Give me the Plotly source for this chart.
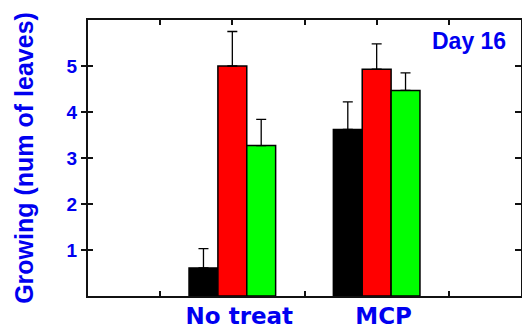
import plotly.graph_objects as go

# Data
groups = ["No treat", "MCP"]
group_pos = [2, 4]
tick_vals = [1, 2, 3, 4, 5]
tick_text = ["", "No treat", "", "MCP", ""]
y_ticks = [1, 2, 3, 4, 5]

black_vals = [0.61, 3.62]
black_err = [0.42, 0.60]
red_vals = [5.0, 4.93]
red_err = [0.75, 0.55]
green_vals = [3.27, 4.47]
green_err = [0.57, 0.38]

series = [
    ("black", black_vals, black_err, "#000000", -0.6),
    ("red", red_vals, red_err, "#ff0000", -0.2),
    ("green", green_vals, green_err, "#00ff00", 0.2),
]

BLUE = "#0000f0"
fig = go.Figure()
for name, vals, errs, col, off in series:
    fig.add_trace(go.Bar(
        x=group_pos, y=vals, name=name, width=0.4, offset=off,
        marker=dict(color=col, line=dict(color="#000000", width=1.5)),
        error_y=dict(type="data", symmetric=False, array=errs,
                     arrayminus=[0] * len(errs), color="#000000",
                     thickness=1.3, width=5),
        showlegend=False,
    ))

# dummy empty traces for extra overlay axes
fig.add_trace(go.Scatter(x=[], y=[], yaxis="y2", showlegend=False))
fig.add_trace(go.Scatter(x=[], y=[], yaxis="y3", showlegend=False))

fig.update_layout(
    width=522, height=327,
    margin=dict(l=88, r=1, t=20, b=31),
    paper_bgcolor="white", plot_bgcolor="white",
    barmode="overlay",
    xaxis=dict(range=[0, 6], tickvals=tick_vals, ticktext=tick_text,
               ticks="inside", ticklen=5, tickwidth=1.5, tickcolor="#111",
               showline=True, linecolor="#111", linewidth=2, mirror="ticks",
               showgrid=False, zeroline=False, layer="below traces",
               automargin=False, ticklabelshift=7, ticklabelstandoff=-2,
               tickfont=dict(family="DejaVu Sans", size=23, color=BLUE, weight="bold")),
    yaxis=dict(range=[0, 6], tickvals=y_ticks, ticks="outside", ticklen=5,
               tickwidth=1.5, tickcolor="#111", showline=True, linecolor="#111",
               linewidth=2, showgrid=False, zeroline=False, automargin=False,
               tickfont=dict(family="Liberation Sans", size=19, color=BLUE, weight="bold"),
               title=dict(text="Growing (num of leaves)", standoff=26,
                          font=dict(family="Liberation Sans", size=25, color=BLUE, weight="bold"))),
    yaxis2=dict(range=[0, 6], tickvals=y_ticks, overlaying="y", side="right",
                ticks="inside", ticklen=6, tickwidth=1.5, tickcolor="#111",
                showline=True, linecolor="#111", linewidth=2, automargin=False,
                showticklabels=False, showgrid=False, zeroline=False),
    yaxis3=dict(range=[0, 6], tickvals=y_ticks, overlaying="y", side="left",
                ticks="inside", ticklen=5, tickwidth=1.5, tickcolor="#111", automargin=False,
                showline=False, showticklabels=False, showgrid=False, zeroline=False),
    annotations=[dict(text="Day 16", xref="paper", yref="paper", x=0.97, y=0.98,
                      xanchor="right", yanchor="top", showarrow=False,
                      font=dict(family="Liberation Sans", size=23, color=BLUE, weight="bold"))],
)

fig.write_html("out.html")
